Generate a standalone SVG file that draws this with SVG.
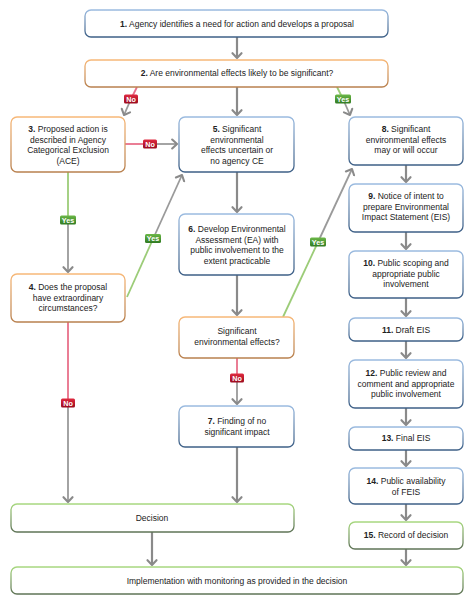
<svg xmlns="http://www.w3.org/2000/svg" width="474" height="604" viewBox="0 0 474 604">
<defs>
<linearGradient id="gBlue" x1="0" y1="0" x2="0" y2="1"><stop offset="0" stop-color="#9bbbe0"/><stop offset="1" stop-color="#3d5f86"/></linearGradient>
<linearGradient id="gOrange" x1="0" y1="0" x2="0" y2="1"><stop offset="0" stop-color="#f7b878"/><stop offset="1" stop-color="#b8804e"/></linearGradient>
<linearGradient id="gGreen" x1="0" y1="0" x2="0" y2="1"><stop offset="0" stop-color="#a8d880"/><stop offset="1" stop-color="#5e7356"/></linearGradient>
<linearGradient id="gNo" x1="0" y1="0" x2="0" y2="1"><stop offset="0" stop-color="#e02a40"/><stop offset="1" stop-color="#9a0a1e"/></linearGradient>
<linearGradient id="gYes" x1="0" y1="0" x2="0" y2="1"><stop offset="0" stop-color="#6cb848"/><stop offset="1" stop-color="#2f7a22"/></linearGradient>
<marker id="ah" markerUnits="userSpaceOnUse" markerWidth="12" markerHeight="12" viewBox="-6 -6 12 12" refX="0" refY="0" orient="auto">
<path d="M-4.8,-4.5 L0,0 L-4.8,4.5" fill="none" stroke="#8a8a8a" stroke-width="2.1" stroke-linecap="round" stroke-linejoin="round"/>
</marker>
</defs>
<style>
.box{fill:#fff;stroke-width:1.3}
.blue{stroke:url(#gBlue)}
.orange{stroke:url(#gOrange)}
.green{stroke:url(#gGreen)}
text{font-family:"Liberation Sans",Arial,sans-serif;font-size:8.5px;fill:#222;text-anchor:middle}
.b{font-weight:bold}
.gray{stroke:#8a8a8a;stroke-width:2.2;fill:none}
.gthin{stroke:#9a9a9a;stroke-width:1.8;fill:none}
.pink{stroke:#e8708a;stroke-width:1.8;fill:none}
.lgreen{stroke:#9ccc78;stroke-width:1.8;fill:none}
.badge text{fill:#fff;font-weight:bold;font-size:7.2px}
</style>

<g id="connectors">
<line class="gray" x1="237" y1="37" x2="237" y2="58" marker-end="url(#ah)"/>
<line class="pink" x1="137" y1="87" x2="131" y2="99"/>
<line class="gthin" x1="131" y1="99" x2="124" y2="115" marker-end="url(#ah)"/>
<line class="gray" x1="237" y1="87" x2="237" y2="115" marker-end="url(#ah)"/>
<line class="lgreen" x1="337" y1="87" x2="343" y2="99"/>
<line class="gthin" x1="343" y1="99" x2="350" y2="115" marker-end="url(#ah)"/>
<line class="pink" x1="125" y1="144" x2="150" y2="144"/>
<line class="gthin" x1="150" y1="144" x2="177" y2="144" marker-end="url(#ah)"/>
<line class="lgreen" x1="68" y1="172" x2="68" y2="220"/>
<line class="gthin" x1="68" y1="220" x2="68" y2="272" marker-end="url(#ah)"/>
<line class="lgreen" x1="127" y1="297" x2="153" y2="239"/>
<line class="gthin" x1="153" y1="239" x2="182" y2="175" marker-end="url(#ah)"/>
<line class="pink" x1="68" y1="322" x2="68" y2="403"/>
<line class="gthin" x1="68" y1="403" x2="68" y2="502" marker-end="url(#ah)"/>
<line class="gray" x1="237" y1="172" x2="237" y2="212" marker-end="url(#ah)"/>
<line class="gray" x1="237" y1="275" x2="237" y2="315" marker-end="url(#ah)"/>
<line class="lgreen" x1="283" y1="317" x2="318" y2="242"/>
<line class="gthin" x1="318" y1="242" x2="352" y2="169" marker-end="url(#ah)"/>
<line class="pink" x1="237" y1="358" x2="237" y2="378"/>
<line class="gthin" x1="237" y1="378" x2="237" y2="404" marker-end="url(#ah)"/>
<line class="gray" x1="237" y1="447" x2="237" y2="502" marker-end="url(#ah)"/>
<line class="gray" x1="406" y1="165" x2="406" y2="182" marker-end="url(#ah)"/>
<line class="gray" x1="406" y1="232" x2="406" y2="249" marker-end="url(#ah)"/>
<line class="gray" x1="406" y1="298" x2="406" y2="316" marker-end="url(#ah)"/>
<line class="gray" x1="406" y1="341" x2="406" y2="358" marker-end="url(#ah)"/>
<line class="gray" x1="406" y1="408" x2="406" y2="425" marker-end="url(#ah)"/>
<line class="gray" x1="406" y1="450" x2="406" y2="466" marker-end="url(#ah)"/>
<line class="gray" x1="406" y1="504" x2="406" y2="520" marker-end="url(#ah)"/>
<line class="gray" x1="406" y1="549" x2="406" y2="565" marker-end="url(#ah)"/>
<line class="gray" x1="152" y1="532" x2="152" y2="565" marker-end="url(#ah)"/>
<g class="badge">
<rect x="124" y="94.5" width="14" height="9" rx="1.5" fill="url(#gNo)"/><text x="131" y="101.6">No</text>
<rect x="335" y="94.5" width="16" height="9" rx="1.5" fill="url(#gYes)"/><text x="343" y="101.6">Yes</text>
<rect x="143" y="139.5" width="14" height="9" rx="1.5" fill="url(#gNo)"/><text x="150" y="146.6">No</text>
<rect x="60" y="215.5" width="16" height="9" rx="1.5" fill="url(#gYes)"/><text x="68" y="222.6">Yes</text>
<rect x="145" y="234" width="16" height="9" rx="1.5" fill="url(#gYes)"/><text x="153" y="241.1">Yes</text>
<rect x="61" y="398.5" width="14" height="9" rx="1.5" fill="url(#gNo)"/><text x="68" y="405.6">No</text>
<rect x="310" y="237.5" width="16" height="9" rx="1.5" fill="url(#gYes)"/><text x="318" y="244.6">Yes</text>
<rect x="230" y="373.5" width="14" height="9" rx="1.5" fill="url(#gNo)"/><text x="237" y="380.6">No</text>
</g>
</g>

<g id="n1"><rect class="box blue" x="85" y="10" width="303" height="27" rx="6"/><text x="237" y="26.8"><tspan class="b">1.</tspan>  Agency identifies a need for action and develops a proposal</text></g>
<g id="n2"><rect class="box orange" x="85" y="60" width="303" height="27" rx="6"/><text x="237" y="76.3"><tspan class="b">2.</tspan> Are environmental effects likely to be significant?</text></g>
<g id="n3"><rect class="box orange" x="11" y="117" width="114" height="55" rx="6"/><text x="68" y="132"><tspan class="b">3.</tspan> Proposed action is</text><text x="68" y="142.5">described in Agency</text><text x="68" y="153">Categorical Exclusion</text><text x="68" y="163.5">(ACE)</text></g>
<g id="n5"><rect class="box blue" x="179" y="117" width="115" height="55" rx="6"/><text x="237" y="132"><tspan class="b">5.</tspan> Significant</text><text x="237" y="142.5">environmental</text><text x="237" y="153">effects uncertain or</text><text x="237" y="163.5">no agency CE</text></g>
<g id="n8"><rect class="box blue" x="349" y="117" width="114" height="48" rx="6"/><text x="406" y="132"><tspan class="b">8.</tspan> Significant</text><text x="406" y="142.5">environmental effects</text><text x="406" y="153">may or will occur</text></g>
<g id="n9"><rect class="box blue" x="349" y="184" width="114" height="48" rx="6"/><text x="406" y="199"><tspan class="b">9.</tspan> Notice of intent to</text><text x="406" y="209.5">prepare Environmental</text><text x="406" y="220">Impact Statement (EIS)</text></g>
<g id="n10"><rect class="box blue" x="349" y="251" width="114" height="47" rx="6"/><text x="406" y="266"><tspan class="b">10.</tspan> Public scoping and</text><text x="406" y="276.5">appropriate public</text><text x="406" y="287">involvement</text></g>
<g id="n11"><rect class="box blue" x="349" y="318" width="114" height="23" rx="6"/><text x="406" y="332.8"><tspan class="b">11.</tspan> Draft EIS</text></g>
<g id="n12"><rect class="box blue" x="349" y="360" width="114" height="48" rx="6"/><text x="406" y="376"><tspan class="b">12.</tspan> Public review and</text><text x="406" y="386.5">comment and appropriate</text><text x="406" y="397">public involvement</text></g>
<g id="n13"><rect class="box blue" x="349" y="427" width="114" height="23" rx="6"/><text x="406" y="441.3"><tspan class="b">13.</tspan> Final EIS</text></g>
<g id="n14"><rect class="box blue" x="349" y="468" width="114" height="36" rx="6"/><text x="406" y="484"><tspan class="b">14.</tspan> Public availability</text><text x="406" y="495">of FEIS</text></g>
<g id="n15"><rect class="box green" x="349" y="522" width="114" height="27" rx="6"/><text x="406" y="538.3"><tspan class="b">15.</tspan> Record of decision</text></g>
<g id="n6"><rect class="box blue" x="179" y="214" width="115" height="61" rx="6"/><text x="237" y="232"><tspan class="b">6.</tspan> Develop Environmental</text><text x="237" y="242.5">Assessment (EA) with</text><text x="237" y="253">public involvement to the</text><text x="237" y="263.5">extent practicable</text></g>
<g id="nsig"><rect class="box orange" x="179" y="317" width="115" height="41" rx="6"/><text x="237" y="334">Significant</text><text x="237" y="344.5">environmental effects?</text></g>
<g id="n7"><rect class="box blue" x="179" y="406" width="115" height="41" rx="6"/><text x="237" y="424"><tspan class="b">7.</tspan> Finding of no</text><text x="237" y="434.5">significant impact</text></g>
<g id="n4"><rect class="box orange" x="11" y="274" width="114" height="48" rx="6"/><text x="68" y="290"><tspan class="b">4.</tspan> Does the proposal</text><text x="68" y="300.5">have extraordinary</text><text x="68" y="311">circumstances?</text></g>
<g id="ndecision"><rect class="box green" x="11" y="504" width="283" height="28" rx="6"/><text x="152" y="521">Decision</text></g>
<g id="nimpl"><rect class="box green" x="11" y="567" width="452" height="27" rx="6"/><text x="237" y="583.8">Implementation with monitoring as provided in the decision</text></g>
</svg>
